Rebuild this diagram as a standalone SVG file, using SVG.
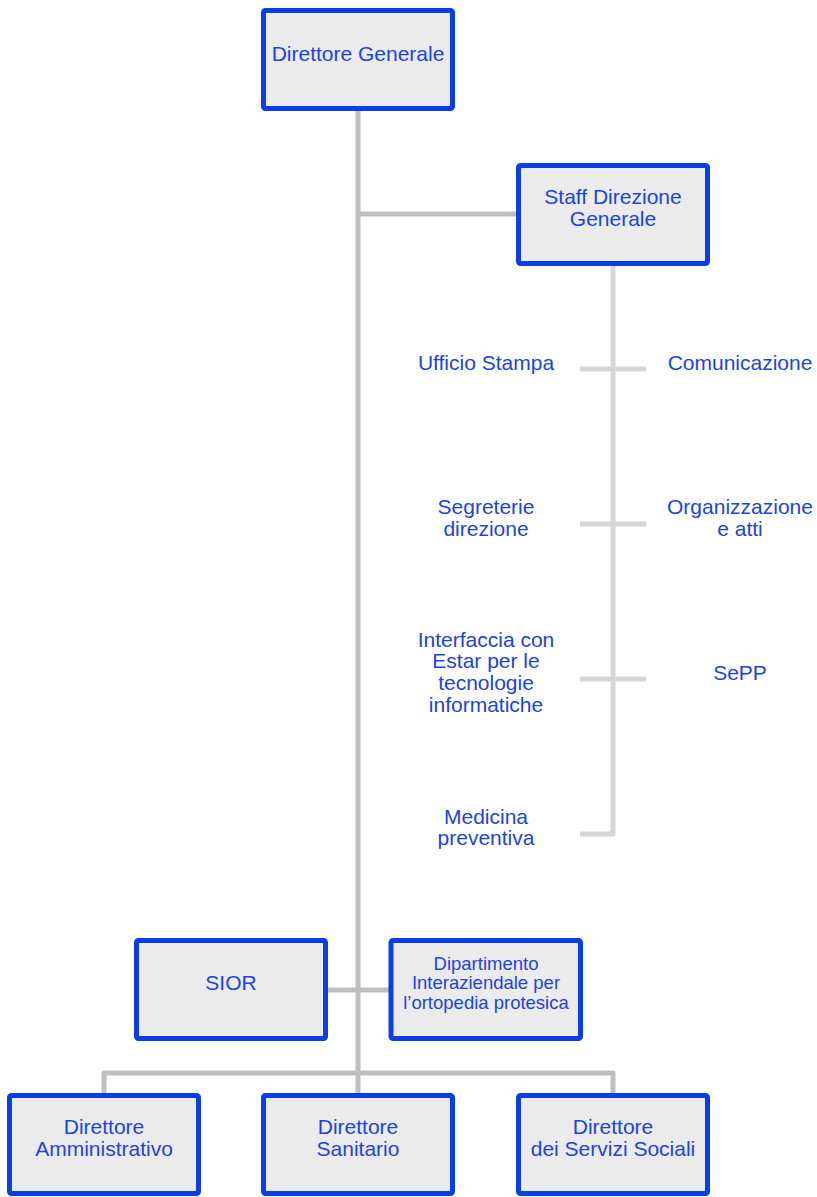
<svg xmlns="http://www.w3.org/2000/svg" width="817" height="1197" viewBox="0 0 817 1197">
  <style>
    .box { fill: #ebebeb; stroke: #0a3ee8; stroke-width: 5; }
    .lbl { font-family: "Liberation Sans", Arial, sans-serif; font-size: 21px; fill: #1a44e4; text-anchor: middle; }
    .sm { font-size: 18.5px; }
    .main { fill: none; stroke: #bfbfbf; stroke-width: 5; stroke-linejoin: round; }
    .staff { fill: none; stroke: #d6d6d6; stroke-width: 5; stroke-linejoin: round; }
  </style>

  <!-- connectors -->
  <g id="connectors">
    <path class="main" d="M358 111 V1093"/>
    <path class="main" d="M358 214 H518"/>
    <path class="main" d="M328 990 H390"/>
    <path class="main" d="M104 1093 V1073 H613 V1093"/>
    <path class="staff" d="M613 266 V834 H580"/>
    <path class="staff" d="M580 369 H646"/>
    <path class="staff" d="M580 524 H646"/>
    <path class="staff" d="M580 679 H646"/>
  </g>

  <g id="direttore-generale">
    <rect class="box" x="263.5" y="10.5" width="189" height="98" rx="2"/>
    <text class="lbl" x="358" y="61">Direttore Generale</text>
  </g>

  <g id="staff-direzione">
    <rect class="box" x="518.5" y="165.5" width="189" height="98" rx="2"/>
    <text class="lbl" x="613" y="204">Staff Direzione</text>
    <text class="lbl" x="613" y="226">Generale</text>
  </g>

  <!-- staff units, left column -->
  <g id="ufficio-stampa">
    <text class="lbl" x="486" y="370">Ufficio Stampa</text>
  </g>
  <g id="segreterie">
    <text class="lbl" x="486" y="513.5">Segreterie</text>
    <text class="lbl" x="486" y="535.5">direzione</text>
  </g>
  <g id="interfaccia-estar">
    <text class="lbl" x="486" y="646.5">Interfaccia con</text>
    <text class="lbl" x="486" y="668.3">Estar per le</text>
    <text class="lbl" x="486" y="690">tecnologie</text>
    <text class="lbl" x="486" y="711.7">informatiche</text>
  </g>
  <g id="medicina-preventiva">
    <text class="lbl" x="486" y="823.5">Medicina</text>
    <text class="lbl" x="486" y="845">preventiva</text>
  </g>

  <!-- staff units, right column -->
  <g id="comunicazione">
    <text class="lbl" x="740" y="370">Comunicazione</text>
  </g>
  <g id="organizzazione">
    <text class="lbl" x="740" y="513.5">Organizzazione</text>
    <text class="lbl" x="740" y="535.5">e atti</text>
  </g>
  <g id="sepp">
    <text class="lbl" x="740" y="680">SePP</text>
  </g>

  <g id="sior">
    <rect class="box" x="136.5" y="940.5" width="189" height="98" rx="2"/>
    <text class="lbl" x="231" y="990">SIOR</text>
  </g>

  <g id="dipartimento">
    <rect class="box" x="391" y="940.5" width="189.5" height="98" rx="2"/>
    <text class="lbl sm" x="486" y="969.5">Dipartimento</text>
    <text class="lbl sm" x="486" y="989">Interaziendale per</text>
    <text class="lbl sm" x="486" y="1008.5">l’ortopedia protesica</text>
  </g>

  <g id="direttore-amministrativo">
    <rect class="box" x="9.5" y="1095.5" width="189" height="98" rx="2"/>
    <text class="lbl" x="104" y="1134">Direttore</text>
    <text class="lbl" x="104" y="1156">Amministrativo</text>
  </g>

  <g id="direttore-sanitario">
    <rect class="box" x="263.5" y="1095.5" width="189" height="98" rx="2"/>
    <text class="lbl" x="358" y="1134">Direttore</text>
    <text class="lbl" x="358" y="1156">Sanitario</text>
  </g>

  <g id="direttore-servizi-sociali">
    <rect class="box" x="518.5" y="1095.5" width="189" height="98" rx="2"/>
    <text class="lbl" x="613" y="1134">Direttore</text>
    <text class="lbl" x="613" y="1156">dei Servizi Sociali</text>
  </g>
</svg>
